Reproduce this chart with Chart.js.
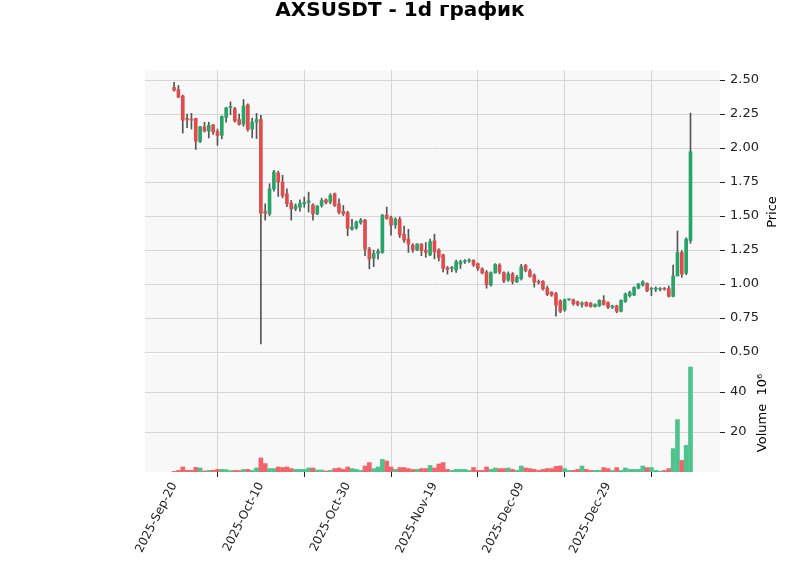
<!DOCTYPE html>
<html><head><meta charset="utf-8">
<script src="https://cdn.jsdelivr.net/npm/chart.js@4.4.1/dist/chart.umd.min.js"></script>
<style>html,body{margin:0;padding:0;background:#fff}#wrap{width:800px;height:575px}</style>
</head><body><div id="wrap"><canvas id="c" width="800" height="575"></canvas></div>
<script>
// ---- data (daily candles starting 2025-09-20) ----
const startDate = [2025, 8, 20];
const openP = [2.445,2.43,2.383,2.215,2.21,2.218,2.05,2.155,2.125,2.17,2.122,2.093,2.225,2.298,2.29,2.21,2.175,2.318,2.14,2.19,
2.21,1.533,1.516,1.70,1.817,1.75,1.664,1.595,1.553,1.565,1.59,1.60,1.583,1.516,1.578,1.62,1.603,1.664,1.59,1.535,
1.525,1.403,1.415,1.451,1.47,1.257,1.19,1.226,1.233,1.507,1.488,1.434,1.476,1.367,1.33,1.286,1.252,1.294,1.25,1.214,
1.318,1.25,1.215,1.12,1.115,1.103,1.147,1.164,1.17,1.174,1.15,1.112,1.088,0.995,1.083,1.14,1.085,1.03,1.075,1.018,
1.04,1.138,1.097,1.064,1.015,1.02,0.97,0.94,0.93,0.875,0.81,0.885,0.885,0.87,0.85,0.865,0.86,0.835,0.84,0.88,
0.865,0.83,0.84,0.80,0.872,0.914,0.92,0.97,0.993,1.005,0.962,0.962,0.962,0.965,0.967,0.91,1.06,1.233,1.08,1.32];
const highP = [2.483,2.46,2.39,2.25,2.255,2.22,2.16,2.19,2.19,2.175,2.14,2.237,2.30,2.34,2.30,2.25,2.357,2.325,2.22,2.255,
2.24,1.59,1.738,1.836,1.83,1.80,1.70,1.615,1.59,1.62,1.64,1.676,1.59,1.578,1.632,1.627,1.665,1.67,1.627,1.578,
1.535,1.476,1.464,1.483,1.476,1.27,1.25,1.257,1.512,1.566,1.50,1.488,1.493,1.427,1.403,1.298,1.298,1.298,1.306,1.33,
1.367,1.26,1.22,1.13,1.13,1.176,1.176,1.18,1.185,1.18,1.155,1.12,1.10,1.09,1.15,1.15,1.09,1.09,1.085,1.065,
1.145,1.145,1.11,1.075,1.03,1.025,0.985,0.945,0.94,0.885,0.89,0.89,0.89,0.875,0.87,0.87,0.865,0.855,0.885,0.915,
0.87,0.845,0.845,0.885,0.935,0.948,0.98,1.005,1.025,1.01,0.975,0.98,0.975,0.975,0.985,1.14,1.39,1.245,1.34,2.257];
const lowP = [2.418,2.37,2.11,2.15,2.14,1.99,2.04,2.118,2.075,2.10,2.02,2.068,2.19,2.245,2.19,2.168,2.16,2.125,2.075,2.07,
0.56,1.47,1.504,1.683,1.644,1.634,1.57,1.47,1.54,1.536,1.565,1.53,1.47,1.51,1.565,1.59,1.59,1.57,1.516,1.504,
1.355,1.396,1.403,1.44,1.209,1.112,1.128,1.184,1.226,1.476,1.36,1.41,1.342,1.306,1.233,1.233,1.245,1.209,1.197,1.209,
1.185,1.17,1.09,1.073,1.09,1.086,1.115,1.152,1.16,1.13,1.10,1.075,0.97,0.985,1.08,1.075,1.01,1.02,1.0,1.01,
1.03,1.09,1.05,0.978,1.0,0.955,0.915,0.91,0.765,0.79,0.80,0.88,0.845,0.84,0.83,0.835,0.83,0.83,0.835,0.845,
0.82,0.82,0.79,0.795,0.865,0.905,0.915,0.965,0.985,0.945,0.915,0.945,0.95,0.955,0.905,0.905,1.06,1.05,1.07,1.30];
const closeP = [2.425,2.375,2.205,2.21,2.205,2.05,2.157,2.125,2.167,2.118,2.093,2.232,2.295,2.302,2.20,2.175,2.31,2.138,2.19,2.21,
1.521,1.521,1.70,1.824,1.75,1.65,1.59,1.553,1.575,1.595,1.60,1.612,1.516,1.573,1.615,1.60,1.652,1.578,1.528,1.516,
1.41,1.42,1.456,1.47,1.257,1.185,1.225,1.24,1.507,1.483,1.434,1.476,1.362,1.323,1.294,1.252,1.294,1.245,1.233,1.313,
1.237,1.196,1.115,1.107,1.118,1.164,1.164,1.17,1.176,1.14,1.115,1.083,0.995,1.083,1.145,1.088,1.024,1.075,1.018,1.05,
1.128,1.10,1.056,1.015,1.012,0.965,0.925,0.92,0.845,0.80,0.885,0.887,0.855,0.85,0.86,0.84,0.835,0.85,0.88,0.85,
0.83,0.84,0.80,0.88,0.926,0.94,0.975,1.0,1.017,0.95,0.965,0.965,0.968,0.962,0.91,1.06,1.233,1.074,1.33,1.973];
const volumeM = [0.3,0.8,2.5,0.8,0.8,2.3,2.0,0.5,0.8,0.8,1.3,1.3,1.2,0.7,0.8,0.7,1.3,1.3,0.8,2.0,
7.0,4.2,1.7,1.7,2.5,2.2,2.5,1.7,1.3,1.3,1.3,2.0,2.0,1.0,1.0,0.5,0.8,1.7,2.0,1.3,
2.5,1.7,1.3,0.8,3.0,4.7,1.7,2.5,6.3,5.5,2.5,1.3,2.2,2.2,1.7,1.3,1.3,1.7,1.7,3.3,
2.0,4.0,4.7,1.3,0.8,1.3,1.3,1.3,0.8,2.2,0.8,0.8,2.5,1.3,2.0,1.7,1.7,2.0,1.3,0.8,
3.0,2.0,1.7,1.3,0.8,1.3,1.7,1.7,2.8,3.0,1.7,0.8,0.8,1.3,3.0,1.3,0.8,0.8,0.8,2.2,
1.7,0.8,2.2,0.8,2.0,1.3,1.3,1.3,3.0,2.2,2.2,0.8,0.5,0.8,1.7,11.7,26.2,5.8,13.3,52.5];
const priceTicks = [0.50,0.75,1.00,1.25,1.50,1.75,2.00,2.25,2.50];
const volumeTicks = [20,40];
const dateTickIdx = [0,20,40,60,80,100,120];
const titleText = 'AXSUSDT - 1d график';

// ---- styling ----
const UP = '#27a468', DOWN = '#e04b4b', VUP = '#4fc38d', VDOWN = '#f2646a', WICK = '#555555';
const GRID = '#d6d6d6', PANEL = '#f8f8f8';
const MONTHS = ['Jan','Feb','Mar','Apr','May','Jun','Jul','Aug','Sep','Oct','Nov','Dec'];
function dateLabel(i){
  if (i >= 120) return '';
  const d = new Date(Date.UTC(startDate[0], startDate[1], startDate[2] + i));
  return d.getUTCFullYear() + '-' + MONTHS[d.getUTCMonth()] + '-' + String(d.getUTCDate()).padStart(2,'0');
}
const idx = openP.map((_, i) => i);
const isUp = idx.map(i => closeP[i] >= openP[i]);

const panelPlugin = {
  id: 'panels',
  beforeDraw(chart){
    const {ctx, chartArea} = chart;
    const yp = chart.scales.yPrice, yv = chart.scales.yVol;
    ctx.save();
    ctx.fillStyle = PANEL;
    ctx.fillRect(chartArea.left, yp.top, chartArea.right - chartArea.left, yp.bottom - yp.top - 1);
    ctx.fillRect(chartArea.left, yv.top + 1, chartArea.right - chartArea.left, yv.bottom - yv.top - 1);
    ctx.restore();
  },
  afterDraw(chart){
    const {ctx} = chart;
    const yp = chart.scales.yPrice, yv = chart.scales.yVol;
    ctx.save();
    ctx.fillStyle = '#000';
    ctx.textAlign = 'center';
    ctx.textBaseline = 'middle';
    ctx.font = 'bold 20px "DejaVu Sans"';
    ctx.fillText(titleText, 400, 11);
    ctx.font = '13px "DejaVu Sans"';
    ctx.translate(773, (yp.top + yp.bottom) / 2);
    ctx.rotate(-Math.PI / 2);
    ctx.fillText('Price', 0, 0);
    ctx.restore();
    ctx.save();
    ctx.fillStyle = '#000';
    ctx.textAlign = 'center';
    ctx.textBaseline = 'middle';
    ctx.font = '13px "DejaVu Sans"';
    ctx.translate(763, (yv.top + yv.bottom) / 2);
    ctx.rotate(-Math.PI / 2);
    ctx.fillText('Volume  10\u2076', 0, 0);
    ctx.restore();
  }
};

new Chart(document.getElementById('c'), {
  type: 'bar',
  data: {
    datasets: [
      { label: 'body', xAxisID: 'x', yAxisID: 'yPrice', order: 1, grouped: false,
        data: idx.map(i => ({x: i, y: [openP[i], closeP[i]]})),
        backgroundColor: idx.map(i => isUp[i] ? UP : DOWN),
        barThickness: 3, minBarLength: 1, borderWidth: 0 },
      { label: 'wick', xAxisID: 'x', yAxisID: 'yPrice', order: 2, grouped: false,
        data: idx.map(i => ({x: i, y: [lowP[i], highP[i]]})),
        backgroundColor: WICK, barThickness: 1, borderWidth: 0 },
      { label: 'volume', xAxisID: 'x', yAxisID: 'yVol', order: 1, grouped: false,
        data: idx.map(i => ({x: i, y: volumeM[i]})),
        backgroundColor: idx.map(i => isUp[i] ? VUP : VDOWN),
        barThickness: 4, borderWidth: 0 }
    ]
  },
  options: {
    responsive: false, animation: false, devicePixelRatio: 1,
    layout: { padding: { left: 145, right: 0, top: 70, bottom: 0 } },
    plugins: { legend: { display: false }, tooltip: { enabled: false }, title: { display: false } },
    scales: {
      x: { type: 'linear', position: 'bottom', min: -6.7, max: 125.8, offset: false,
        grid: { color: GRID, tickColor: '#222', tickLength: 5, drawTicks: true },
        border: { display: false },
        afterBuildTicks: s => { s.ticks = dateTickIdx.map(v => ({value: v})); },
        afterFit: s => { s.height = 103; },
        ticks: { autoSkip: false, minRotation: 63, maxRotation: 63, padding: 3, color: '#222',
          font: { family: 'DejaVu Sans', size: 12 }, callback: v => dateLabel(v) } },
      yPrice: { type: 'linear', position: 'right', stack: 'panels', stackWeight: 284,
        min: 0.486, max: 2.574,
        grid: { color: GRID, tickColor: '#222', tickLength: 5 },
        border: { display: false },
        afterBuildTicks: s => { s.ticks = priceTicks.map(v => ({value: v})); },
        afterFit: s => { s.width = 80; },
        ticks: { padding: 5, color: '#222', font: { family: 'DejaVu Sans', size: 13 },
          callback: v => Number(v).toFixed(2) } },
      yVol: { type: 'linear', position: 'right', stack: 'panels', stackWeight: 118,
        min: 0, max: 59,
        grid: { color: GRID, tickColor: '#222', tickLength: 5 },
        border: { display: false },
        afterBuildTicks: s => { s.ticks = volumeTicks.map(v => ({value: v})); },
        afterFit: s => { s.width = 80; },
        ticks: { padding: 5, color: '#222', font: { family: 'DejaVu Sans', size: 13 },
          callback: v => String(v) } }
    }
  },
  plugins: [panelPlugin]
});
</script></body></html>
